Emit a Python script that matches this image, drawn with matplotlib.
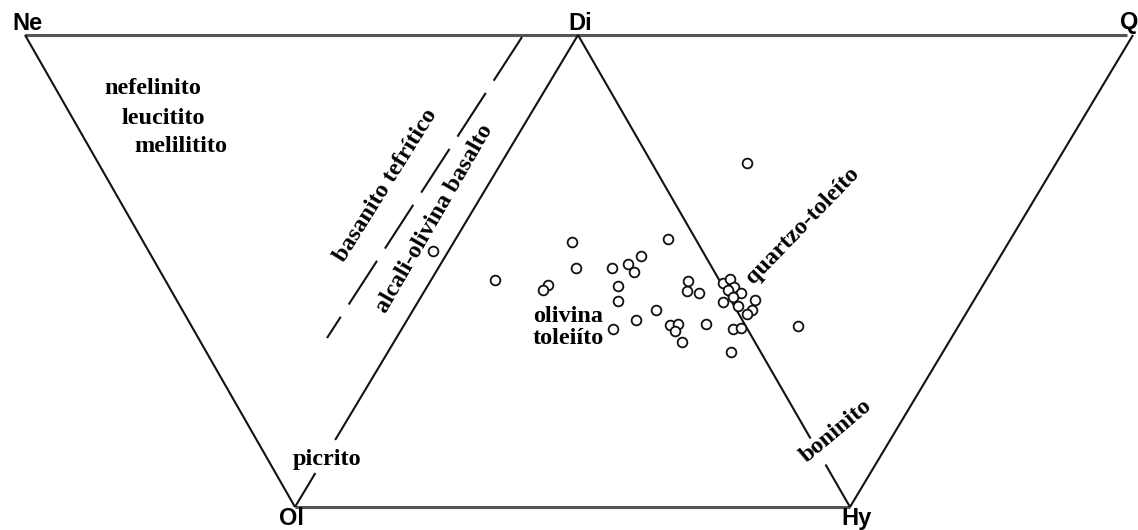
import matplotlib.pyplot as plt

# diagram corners (drawing units, y grows downward)
vertex_names = ["Ne", "Di", "Q", "Ol", "Hy"]
vertex_x = [25, 578, 1133, 295, 850]
vertex_y = [35, 35, 35, 507, 507]

# sample points
sample_x = [433, 495, 572, 576, 548, 543, 612, 628, 634, 641, 668, 618, 618,
            613, 636, 656, 670, 678, 675, 682, 688, 687, 699, 706, 731, 798,
            747, 723, 730, 734, 728, 741, 733, 723, 738, 755, 752, 747, 733, 741]
sample_y = [251, 280, 242, 268, 285, 290, 268, 264, 272, 256, 239, 286, 301,
            329, 320, 310, 325, 324, 331, 342, 281, 291, 293, 324, 352, 326,
            163, 283, 279, 287, 290, 293, 297, 302, 306, 300, 310, 314, 329, 328]

V = {n: (x, y) for n, x, y in zip(vertex_names, vertex_x, vertex_y)}


def seg(ax, a, b, t0=0.0, t1=1.0, **kw):
    x = [a[0] + (b[0] - a[0]) * t0, a[0] + (b[0] - a[0]) * t1]
    y = [a[1] + (b[1] - a[1]) * t0, a[1] + (b[1] - a[1]) * t1]
    ax.plot(x, y, **kw)


fig = plt.figure(figsize=(11.38, 5.30), dpi=100)
ax = fig.add_axes([0, 0, 1, 1])
ax.set_xlim(0, 1138)
ax.set_ylim(530, 0)
ax.axis("off")

line = dict(color="#111111", lw=1.5, solid_capstyle="butt")
grey = dict(color="#555555", lw=2.2, solid_capstyle="butt")

seg(ax, V["Ne"], V["Q"], t1=0.995, **grey)
seg(ax, V["Ol"], V["Hy"], **grey)
seg(ax, V["Ne"], V["Ol"], **line)
seg(ax, V["Q"], V["Hy"], **line)
# Di-Ol with gap for "picrito"
seg(ax, V["Di"], V["Ol"], t1=0.858, **line)
seg(ax, V["Di"], V["Ol"], t0=0.928, **line)
# Di-Hy with gap for "boninito"
seg(ax, V["Di"], V["Hy"], t1=0.855, **line)
seg(ax, V["Di"], V["Hy"], t0=0.91, **line)
# dashed boundary
ax.plot([522, 327], [37, 338], color="#111111", lw=1.5, dashes=(25, 7))

ax.plot(sample_x, sample_y, "o", ms=7, mfc="white", mec="#111111", mew=1.3,
        zorder=3)

sans = dict(family="Liberation Sans", fontweight="bold", fontsize=17)
ax.text(27, 23, "Ne", ha="center", va="center", **sans)
ax.text(580, 24, "Di", ha="center", va="center", **sans)
ax.text(1129, 23, "Q", ha="center", va="center", **sans)
ax.text(291, 530, "Ol", ha="center", va="bottom", **sans)
ax.text(857, 530, "Hy", ha="center", va="bottom", **sans)

serif = dict(family="Liberation Serif", fontweight="bold", fontsize=17.5)
ax.text(104, 89, "nefelinito", ha="left", va="center", **serif)
ax.text(122, 118, "leucitito", ha="left", va="center", **serif)
ax.text(134, 147, "melilitito", ha="left", va="center", **serif)
ax.text(386, 186, "basanito tefrítico", ha="center", va="center",
        rotation=58, rotation_mode="anchor", **serif)
ax.text(435, 219, "alcali-olivina basalto", ha="center", va="center",
        rotation=60, rotation_mode="anchor", **serif)
ax.text(533, 316, "olivina", ha="left", va="center", **serif)
ax.text(533, 338, "toleiíto", ha="left", va="center", **serif)
ax.text(803, 226, "quartzo-toleíto", ha="center", va="center",
        rotation=46, rotation_mode="anchor", **serif)
ax.text(327, 459, "picrito", ha="center", va="center", **serif)
ax.text(836, 431, "boninito", ha="center", va="center",
        rotation=40, rotation_mode="anchor", **serif)

fig.savefig("out.png", dpi=100)
